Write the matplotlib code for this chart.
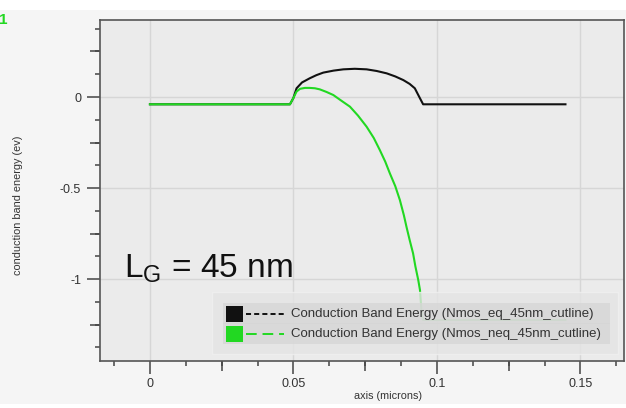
import matplotlib
matplotlib.use("Agg")
import matplotlib.pyplot as plt
from matplotlib.patches import Rectangle
from matplotlib.lines import Line2D
from matplotlib.ticker import MultipleLocator, FixedLocator

plt.rcParams['font.family'] = ['Liberation Sans', 'DejaVu Sans']
plt.rcParams['axes.unicode_minus'] = False
plt.rcParams['mathtext.fontset'] = 'custom'
plt.rcParams['mathtext.rm'] = 'Liberation Sans'

# conduction band along the cutline, equilibrium
x_eq = [0.0, 0.0488, 0.0500, 0.0511, 0.0530, 0.0557, 0.0580, 0.0604, 0.0640,
        0.0674, 0.0714, 0.0755, 0.0790, 0.0825, 0.0855, 0.0883, 0.0905,
        0.0923, 0.0941, 0.0952, 0.1448]
e_eq = [-0.04, -0.04, -0.005, 0.048, 0.080, 0.103, 0.120, 0.134, 0.145,
        0.152, 0.155, 0.152, 0.143, 0.130, 0.113, 0.093, 0.072,
        0.048, -0.007, -0.040, -0.040]

# conduction band along the cutline, non-equilibrium
x_neq = [0.0, 0.0488, 0.0500, 0.0511, 0.0523, 0.0540, 0.0557, 0.0575, 0.0592,
         0.0615, 0.0639, 0.0665, 0.0697, 0.0725, 0.0755, 0.0780, 0.0801,
         0.0820, 0.0836, 0.0855, 0.0871, 0.0885, 0.0894, 0.0905, 0.0917,
         0.0925, 0.0935, 0.0941, 0.0947, 0.0952, 0.1448]
e_neq = [-0.04, -0.04, -0.005, 0.030, 0.045, 0.050, 0.050, 0.048, 0.042,
         0.028, 0.011, -0.018, -0.053, -0.102, -0.163, -0.225, -0.291,
         -0.355, -0.419, -0.490, -0.566, -0.650, -0.713, -0.785, -0.859,
         -0.930, -1.005, -1.06, -1.19, -1.225, -1.225]

series_labels = ["Conduction Band Energy (Nmos_eq_45nm_cutline)",
                 "Conduction Band Energy (Nmos_neq_45nm_cutline)"]
series_colors = ["#111111", "#22d822"]

W, H = 626, 408
fig = plt.figure(figsize=(W / 100, H / 100), dpi=100, facecolor="#f5f5f5")


def px(x, y):
    return x / W, 1 - y / H


# white strips top and bottom
fig.patches.append(Rectangle((0, 1 - 10 / H), 1, 10 / H, transform=fig.transFigure,
                             facecolor="white", edgecolor="none", zorder=0))
fig.patches.append(Rectangle((0, 0), 1, 4 / H, transform=fig.transFigure,
                             facecolor="white", edgecolor="none", zorder=0))

ax = fig.add_axes([100 / W, 47 / H, 524 / W, 341 / H])
ax.set_facecolor("#ebebeb")
ax.set_xlim(-0.0174, 0.1652)
ax.set_ylim(-1.45, 0.423)

ax.plot(x_eq, e_eq, color=series_colors[0], lw=1.5, zorder=3)
ax.plot(x_neq, e_neq, color=series_colors[1], lw=1.5, zorder=4)

# ticks: majors, medium and short minors
ax.xaxis.set_major_locator(FixedLocator([0, 0.05, 0.1, 0.15]))
ax.xaxis.set_minor_locator(MultipleLocator(0.0125))
ax.yaxis.set_major_locator(FixedLocator([0, -0.5, -1]))
ax.yaxis.set_minor_locator(MultipleLocator(0.125))
ax.set_xticklabels(["0", "0.05", "0.1", "0.15"])
ax.set_yticklabels(["0", "-0.5", "-1"])
ax.tick_params(which="major", direction="out", length=9.5, width=1.1,
               color="#444444", labelsize=9, labelcolor="#333333", pad=2.5)
ax.tick_params(axis="y", which="major", pad=4)
ax.tick_params(which="minor", direction="out", length=3.6, width=1.1, color="#444444")
ax.grid(True, which="major", color="#d6d6d6", lw=1)
ax.set_axisbelow(True)
for s in ax.spines.values():
    s.set_color("#555555")
    s.set_linewidth(1.2)

secx = ax.secondary_xaxis("bottom")
secx.set_xticks([0.025, 0.075, 0.125])
secx.tick_params(length=7, width=1.1, color="#444444", labelbottom=False)
secx.spines["bottom"].set_visible(False)
secy = ax.secondary_yaxis("left")
secy.set_yticks([0.25, -0.25, -0.75, -1.25])
secy.tick_params(length=7, width=1.1, color="#444444", labelleft=False)
secy.spines["left"].set_visible(False)

ax.set_xlabel("axis (microns)", fontsize=7.8, color="#333333")
ax.xaxis.set_label_coords(0.55, -0.088)
fig.text(*px(18, 205), "conduction band energy (ev)", rotation=90, fontsize=7.8,
         color="#333333", ha="center", va="center")

ax.text(*px(124, 277), r"L$_\mathregular{G}$ = 45 nm", transform=fig.transFigure,
        fontsize=24, color="#111111", ha="left", va="baseline", zorder=6)

fig.text(*px(-1, 20), "1", fontsize=11, fontweight="bold", color="#22d822",
         ha="left", va="center")


# legend panel
def fig_rect(x0, y0, x1, y1, **kw):
    fx0, fy1 = px(x0, y1)
    r = Rectangle((fx0, fy1), (x1 - x0) / W, (y1 - y0) / H,
                  transform=fig.transFigure, **kw)
    fig.patches.append(r)


fig_rect(212, 292, 618, 354, facecolor="#e4e4e4", edgecolor="#f0f0f0",
         lw=1, alpha=0.8, zorder=5)
row_tops = [303, 323]
for i, top in enumerate(row_tops):
    fig_rect(223, top, 610, top + 21, facecolor="#d6d6d6", edgecolor="none",
             alpha=0.75, zorder=5)
    yc = top + 10.5
    fig_rect(226, yc - 8, 243, yc + 8, facecolor=series_colors[i],
             edgecolor="none", zorder=6)
    ls = (0, (2.6, 1.6)) if i == 0 else (0, (5.5, 3))
    fig.lines.append(Line2D([246 / W, 284 / W], [1 - yc / H] * 2,
                            transform=fig.transFigure, color=series_colors[i],
                            lw=1.4, linestyle=ls, zorder=6))
    fig.text(*px(291, yc), series_labels[i], fontsize=9.5, color="#333333",
             ha="left", va="center", zorder=7)

fig.savefig("out.png", dpi=100, facecolor=fig.get_facecolor())
